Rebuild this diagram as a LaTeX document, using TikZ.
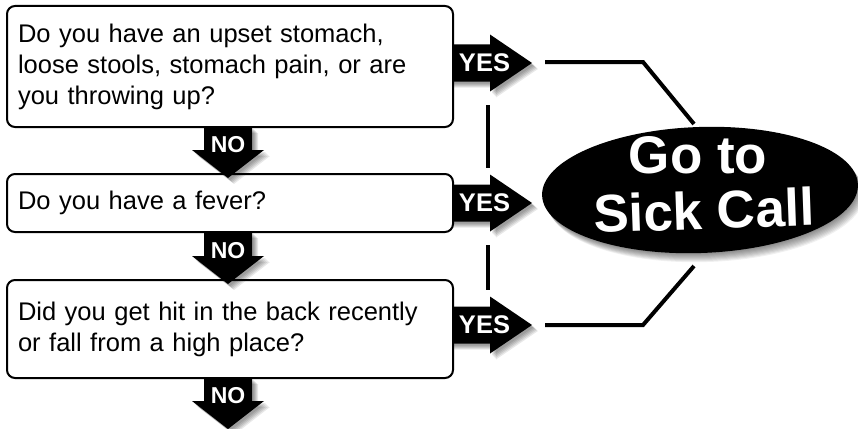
\documentclass[tikz,border=0pt]{standalone}
\usepackage{fontspec}
\setmainfont{Liberation Sans}
\usetikzlibrary{shapes.geometric}

\tikzset{
  qbox/.style={draw, line width=2pt, rounded corners=8pt, fill=white,
    text width=424pt, inner xsep=11pt, inner ysep=0pt, align=left,
    font=\fontsize{25.5}{31}\selectfont},
  tag/.style={text=white, inner sep=0pt, font=\bfseries\fontsize{23}{23}\selectfont},
  link/.style={line width=4pt},
  blur/.style={fill=black, opacity=0.09},
  goal/.style={ellipse, fill=black, minimum width=316pt, minimum height=126pt,
    inner sep=0pt, rotate=2},
  goaltext/.style={text=white, inner sep=0pt, font=\bfseries\fontsize{53}{53}\selectfont},
}
% arrow outlines, by the y of their middle line / their shaft ends
\newcommand\yesshape[1]{(445,#1-18.5) -- (490,#1-18.5) -- (490,#1-28.5) -- (532,#1)
  -- (490,#1+28.5) -- (490,#1+18.5) -- (445,#1+18.5) -- cycle}
\newcommand\noshape[2]{(204,#1) -- (252,#1) -- (252,#2) -- (264,#2) -- (228,#2+28)
  -- (192,#2) -- (204,#2) -- cycle}

\begin{document}
\begin{tikzpicture}[x=1pt,y=-1pt]
  \fill[white] (0,0) rectangle (858,428);
  \useasboundingbox (0,0) rectangle (858,428);

  \coordinate (T1) at (545,62);
  \coordinate (T2) at (643,62);
  \coordinate (T3) at (694,124);
  \coordinate (B1) at (545,325);
  \coordinate (B2) at (643,325);
  \coordinate (B3) at (694,266);
  \coordinate (V1) at (488,105);
  \coordinate (V2) at (488,168);
  \coordinate (V3) at (488,245);
  \coordinate (V4) at (488,290);

  % lines to the goal
  \draw[link] (T1) -- (T2) -- (T3);
  \draw[link] (B1) -- (B2) -- (B3);
  \draw[link] (V1) -- (V2);
  \draw[link] (V3) -- (V4);

  % yes arrows
  \foreach \c/\n in {63/1,203/2,325/3} {
    \foreach \d in {2,...,6}
      \fill[blur, shift={(\d,\d)}] \yesshape{\c};
    \fill \yesshape{\c};
    \node[tag, font=\bfseries\fontsize{25.5}{25.5}\selectfont] (yes\n) at (484.5,\c) {YES};
  }

  % questions
  \node[qbox, minimum height=121pt] (q1) at (230,66.5)
    {Do you have an upset stomach,\\loose stools, stomach pain, or are\\you throwing up?};
  \node[qbox, minimum height=58pt] (q2) at (230,203) {Do you have a fever?};
  \node[qbox, minimum height=98pt] (q3) at (230,329)
    {Did you get hit in the back recently\\or fall from a high place?};

  % no arrows
  \foreach \a/\b/\n in {127/150/1,232/256/2,378/401/3} {
    \foreach \d in {2,...,6}
      \fill[blur, shift={(\d,\d)}] \noshape{\a}{\b};
    \fill \noshape{\a}{\b};
    \node[tag] (no\n) at (228,\b-5) {NO};
  }

  % the goal
  \foreach \d in {1,...,9}
    \node[goal, fill opacity=0.06] at (700+\d*0.7,190+\d) {};
  \node[goal] (sick) at (700,190) {};
  \node[goaltext] (go) at (698,155) {Go to};
  \node[goaltext, rotate=2] (call) at (704,210) {Sick Call};
\end{tikzpicture}
\end{document}
